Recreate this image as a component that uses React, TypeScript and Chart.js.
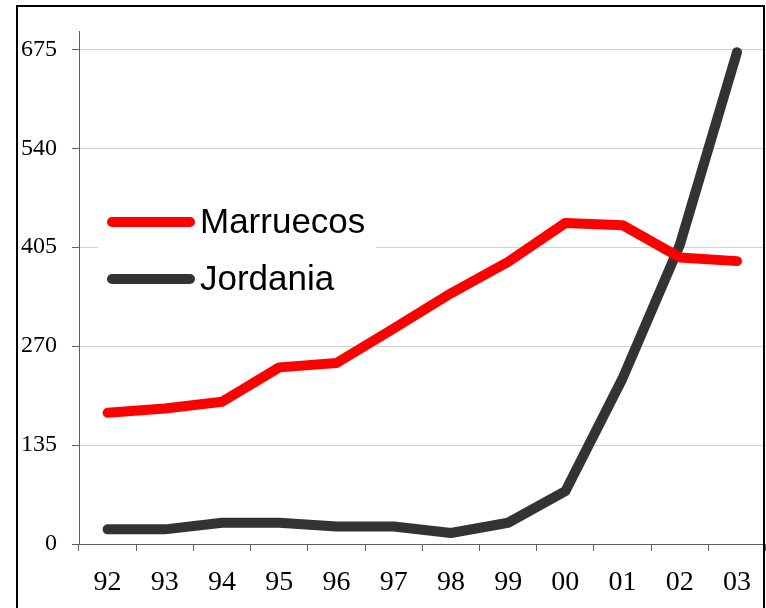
import React, { useEffect, useRef } from "react";
import { Chart, registerables } from "chart.js";

Chart.register(...registerables);

const years = ["92", "93", "94", "95", "96", "97", "98", "99", "00", "01", "02", "03"];
const marruecos = [179, 185, 194, 241, 247, 294, 342, 385, 438, 435, 391, 386];
const jordania = [20, 20, 29, 29, 24, 24, 15, 29, 72, 226, 408, 671];
const yTicks = [0, 135, 270, 405, 540, 675];
const seriesNames = ["Marruecos", "Jordania"];
const seriesColors = ["#ff0000", "#333333"];

const framePlugin = {
  id: "frameAndLegend",
  afterDraw(chart: any) {
    const ctx = chart.ctx;
    ctx.save();
    // outer frame
    ctx.strokeStyle = "#000000";
    ctx.lineWidth = 2;
    ctx.strokeRect(17, 6, 747, 640);
    // legend box
    ctx.fillStyle = "#ffffff";
    ctx.fillRect(98, 194, 278, 108);
    const rows = [222, 279];
    ctx.lineCap = "round";
    ctx.lineWidth = 10;
    ctx.font = "35px 'Liberation Sans', Arial, sans-serif";
    ctx.textBaseline = "middle";
    ctx.textAlign = "left";
    seriesNames.forEach((name, i) => {
      ctx.strokeStyle = seriesColors[i];
      ctx.beginPath();
      ctx.moveTo(112, rows[i]);
      ctx.lineTo(190, rows[i]);
      ctx.stroke();
      ctx.fillStyle = "#000000";
      ctx.fillText(name, 200, rows[i] + 1);
    });
    ctx.restore();
  },
};

export default function App() {
  const ref = useRef<HTMLCanvasElement>(null);
  useEffect(() => {
    if (!ref.current) return;
    const chart = new Chart(ref.current, {
      type: "line",
      data: {
        labels: years,
        datasets: [
          {
            label: seriesNames[0],
            data: marruecos,
            borderColor: seriesColors[0],
            backgroundColor: seriesColors[0],
            borderWidth: 10,
            borderCapStyle: "round",
            borderJoinStyle: "round",
            pointRadius: 0,
            tension: 0,
          },
          {
            label: seriesNames[1],
            data: jordania,
            borderColor: seriesColors[1],
            backgroundColor: seriesColors[1],
            borderWidth: 10,
            borderCapStyle: "round",
            borderJoinStyle: "round",
            pointRadius: 0,
            tension: 0,
          },
        ],
      },
      options: {
        responsive: false,
        animation: false,
        devicePixelRatio: 1,
        layout: { padding: { top: 31, left: 0, right: 0, bottom: 0 } },
        plugins: {
          legend: { display: false },
          tooltip: { enabled: false },
        },
        scales: {
          x: {
            type: "category",
            offset: true,
            grid: {
              display: true,
              drawOnChartArea: false,
              offset: true,
              tickLength: 7,
              tickColor: "#606060",
            },
            border: { display: true, color: "#606060", width: 1 },
            ticks: {
              color: "#000000",
              font: { family: "'Liberation Serif', 'Times New Roman', serif", size: 28 },
              padding: 15,
              maxRotation: 0,
              autoSkip: false,
            },
            afterFit(scale: any) {
              scale.height = 64;
            },
          },
          y: {
            min: 0,
            max: 700,
            afterBuildTicks(scale: any) {
              scale.ticks = yTicks.map((v) => ({ value: v }));
            },
            grid: {
              color: "#d0d0d0",
              lineWidth: 1,
              tickLength: 7,
              tickColor: "#606060",
            },
            border: { display: true, color: "#606060", width: 1 },
            ticks: {
              color: "#000000",
              font: { family: "'Liberation Serif', 'Times New Roman', serif", size: 24 },
              padding: 15,
            },
            afterFit(scale: any) {
              scale.width = 79;
            },
          },
        },
      },
      plugins: [framePlugin],
    } as any);
    return () => chart.destroy();
  }, []);
  return (
    <div style={{ position: "absolute", left: 0, top: 0, width: 766, height: 608, background: "#ffffff" }}>
      <canvas ref={ref} width={766} height={608} style={{ display: "block" }} />
    </div>
  );
}
